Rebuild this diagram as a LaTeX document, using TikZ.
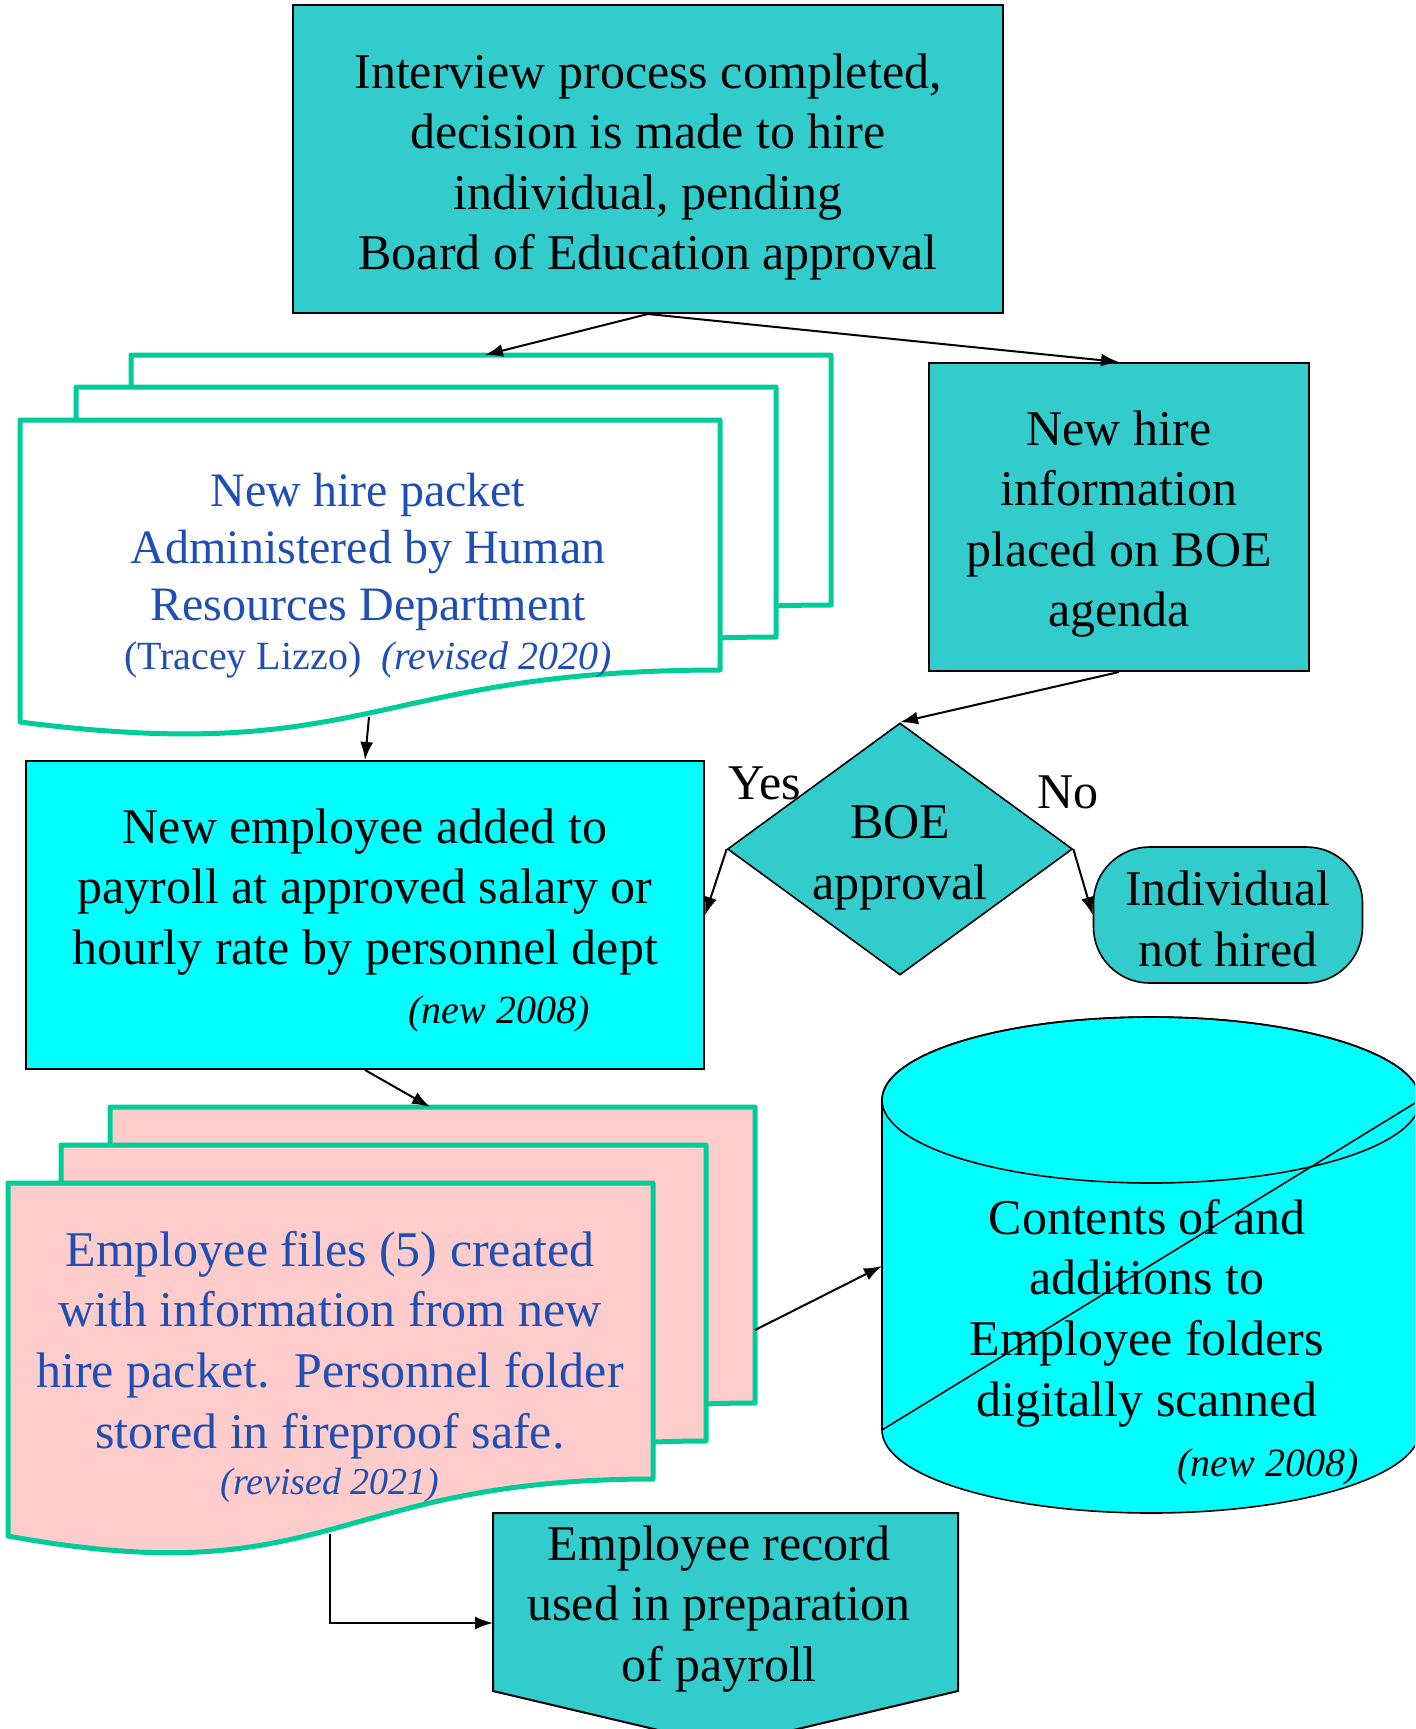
\documentclass[tikz,border=0pt]{standalone}
\usepackage{fontspec}
\setmainfont{Liberation Serif}
\usepackage{tikz}
\usetikzlibrary{positioning}
\usetikzlibrary{arrows.meta,shapes.geometric}
\definecolor{boxteal}{HTML}{33CCCC}
\definecolor{boxcyan}{HTML}{00FFFF}
\definecolor{filepink}{HTML}{FFCCCC}
\definecolor{sheetgreen}{HTML}{00CC99}
\definecolor{textblue}{HTML}{1F4FB5}
\newcommand{\mainsize}{\fontsize{25}{30.3}\selectfont}
\newcommand{\packetsize}{\fontsize{24}{28.5}\selectfont}
\newcommand{\notesize}{\fontsize{20}{24}\selectfont}
\tikzstyle{tealbox}=[rectangle,draw=black,fill=boxteal,line width=1pt,inner sep=0pt]
\tikzstyle{sheet}=[draw=sheetgreen,line width=2.5pt,line join=round]
\tikzstyle{outline}=[draw=black,line width=0.8pt]
\tikzstyle{label}=[align=center,font=\mainsize,inner sep=0pt]
\tikzstyle{bluelabel}=[label,text=textblue]
\tikzstyle{note}=[font=\notesize\itshape,inner sep=0pt]
\tikzstyle{edge}=[draw,line width=1pt,->]

\begin{document}
\begin{tikzpicture}[x=0.5pt,y=-0.5pt,>={Latex[length=9pt,width=6.5pt]}]
    \useasboundingbox (0,0) rectangle (1415,1729);
    \clip (0,0) rectangle (1415,1729);

    \node[tealbox,minimum width=355pt,minimum height=154pt] (decision) at (648,159) {};
    \node[label] (decisiontext) at (648,167) {Interview process completed,\\decision is made to hire\\individual, pending\\Board of Education approval};
    \node[tealbox,minimum width=190pt,minimum height=154pt] (agenda) at (1119,517) {};
    \node[label] (agendatext) at (1119,524) {New hire\\information\\placed on BOE\\agenda};

    % packet, three sheets
    \foreach \sx/\sy in {131/355, 76/387, 20/420}{
        \begin{scope}[shift={(\sx,\sy)}]
            \filldraw[sheet,fill=white] (0,0) -- (700,0) -- (700,250) .. controls (350,250) and (350,347) .. (0,302) -- cycle;
        \end{scope}
    }
    \node[bluelabel,font=\packetsize] (packet) at (368,552) {New hire packet\\Administered by Human\\Resources Department};
    \node[label,text=textblue,font=\notesize] (packetnote) at (368,660) {(Tracey Lizzo)\ \ \textit{(revised 2020)}};
    \coordinate (packettop) at (485,355);
    \coordinate (packetout) at (369,717);

    \node[rectangle,outline,line width=1pt,fill=boxcyan,minimum width=339pt,minimum height=154pt] (added) at (365,915) {};
    \node[label] (addedtext) at (365,892) {New employee added to\\payroll at approved salary or\\hourly rate by personnel dept};
    \node[note] (addednote) at (499,1014) {(new 2008)};

    \node[diamond,outline,fill=boxteal,inner sep=0pt,shape aspect=1.37,minimum width=172.5pt,minimum height=126pt] (boe) at (900,849) {};
    \node[label] (boetext) at (900,858) {BOE\\approval};
    \node[label] (yes) at (765,783) {Yes};
    \node[label] (no) at (1068,792) {No};
    \node[rectangle,outline,fill=boxteal,rounded corners=28pt,minimum width=134.5pt,minimum height=68pt] (nothired) at (1228,915) {};
    \node[label] (nothiredtext) at (1228,919) {Individual\\not hired};

    % employee files, three sheets
    \foreach \sx/\sy in {110/1107, 61/1145, 8/1183}{
        \begin{scope}[shift={(\sx,\sy)}]
            \filldraw[sheet,fill=filepink] (0,0) -- (645,0) -- (645,296) .. controls (322,296) and (322,412) .. (0,353) -- cycle;
        \end{scope}
    }
    \node[bluelabel] (files) at (330,1345) {Employee files (5) created\\with information from new\\hire packet.\ \ Personnel folder\\stored in fireproof safe.};
    \node[note,text=textblue,font=\fontsize{19}{23}\selectfont\itshape] (filesnote) at (330,1485) {(revised 2021)};
    \coordinate (filestop) at (430,1107);
    \coordinate (filesright) at (755,1330);
    \coordinate (filesout) at (330,1534);

    % scanned folders
    \filldraw[outline,fill=boxcyan] (882,1100) -- (882,1430) arc[start angle=180,end angle=360,x radius=134.5pt,y radius=41.5pt] -- (1420,1100) arc[start angle=0,end angle=180,x radius=134.5pt,y radius=41.5pt] -- cycle;
    \draw[outline] (1151,1100) ellipse[x radius=134.5pt,y radius=41.5pt];
    \draw[outline] (882,1430) -- (1420,1100);
    \node[label] (scan) at (1147,1313) {Contents of and\\additions to\\Employee folders\\digitally scanned};
    \node[note] (scannote) at (1268,1467) {(new 2008)};
    \coordinate (scanin) at (882,1266);

    \filldraw[outline,line width=1pt,fill=boxteal] (493,1513) -- (958,1513) -- (958,1691) -- (726,1746) -- (493,1691) -- cycle;
    \node[label] (record) at (719,1609) {Employee record\\used in preparation\\of payroll};
    \coordinate (recordin) at (493,1623);

    \foreach \source/\dest in {decision.south/packettop, decision.south/agenda.north, packetout/added.north, agenda.south/boe.north, boe.west/added.east, boe.east/nothired.west, added.south/filestop, filesright/scanin}
        \path[edge] (\source) -- (\dest);
    \path[edge] (filesout) |- (recordin);
\end{tikzpicture}
\end{document}
